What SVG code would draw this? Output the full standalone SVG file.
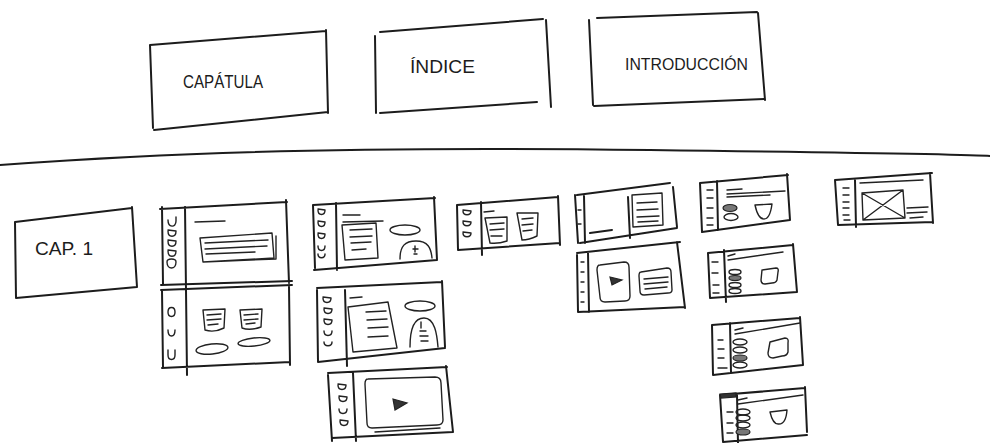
<svg xmlns="http://www.w3.org/2000/svg" width="990" height="443" viewBox="0 0 990 443">
<style>
.o{fill:none;stroke:#1c1c1c;stroke-width:2;stroke-linecap:round;stroke-linejoin:round}
.i{fill:none;stroke:#222;stroke-width:1.4;stroke-linecap:round;stroke-linejoin:round}
.f{fill:#333;stroke:#222;stroke-width:1.2}
.h{fill:#777;stroke:#222;stroke-width:1.2}
.t{font-family:"Liberation Sans",Arial,sans-serif;fill:#1c1c1c;font-weight:normal}
</style>
<rect width="990" height="443" fill="#fff"/>
<g id="capatula">
<path class="o" d="M150,45 L326,31 M326,30 L328,113 M154,130 L328,112 M150,45 L153,128"/>
<text class="t" x="183" y="88" font-size="19" textLength="80" lengthAdjust="spacingAndGlyphs">CAPÁTULA</text>
</g>
<g id="indice">
<path class="o" d="M380,32 L543,19 M546,20 L551,107 M380,113 L537,102 M375,36 L376,113"/>
<text class="t" x="410" y="73" font-size="18" textLength="65" lengthAdjust="spacingAndGlyphs">ÍNDICE</text>
</g>
<g id="introduccion">
<path class="o" d="M597,18 L757,12 M758,13 L765,100 M594,106 L765,99 M589,20 L593,105"/>
<text class="t" x="625" y="70" font-size="16" textLength="123" lengthAdjust="spacingAndGlyphs">INTRODUCCIÓN</text>
</g>
<g id="divider">
<path class="o" d="M0,165 Q70,160 130,157 Q330,146 650,150 T990,156"/>
</g>
<g id="cap1">
<path class="o" d="M15,222 L132,208 M132,207 L137,287 M16,298 L137,287 M15,222 L16,298"/>
<text class="t" x="35" y="255" font-size="18" textLength="58" lengthAdjust="spacingAndGlyphs">CAP. 1</text>
</g>
<g id="slide-a1">
<path class="o" d="M160,209 L287,202 M286,200 L289,283 M161,285 L292,281 M162,207 L163,284 M185,207 L186,290"/>
<path class="i" d="M168,220 C168,228 176,228 176,221 L176,217 M168,231 C168,238 176,238 176,231 L168,230 M168,241 C168,248 176,248 176,241 L168,240 M168,251 C168,258 176,258 176,251 L168,250 M167,262 C167,270 176,270 176,262 C176,258 167,258 167,262"/>
<path class="i" d="M195,222 L225,221 M200,238 L272,233 L274,258 L203,262 Z M203,262 L276,259 L276,236 M205,243 L268,240 M205,249 L267,246 M206,254 L255,252"/>
</g>
<g id="slide-a2">
<path class="o" d="M161,290 L292,285 M289,286 L290,365 M162,368 L290,362 M162,290 L163,368 M186,290 L187,375"/>
<path class="i" d="M168,312 C168,306 175,306 175,312 C175,318 168,318 168,312 M168,330 C168,338 175,338 175,330 M168,350 L168,355 C168,361 175,361 175,355 L175,350"/>
<path class="i" d="M203,310 L225,309 L224,328 Q214,333 205,330 Z M207,315 L221,314 M207,320 L221,319 M208,325 L218,324 M240,310 L262,309 L261,327 Q250,331 242,328 Z M244,315 L258,314 M244,320 L258,319 M246,324 L255,323"/>
<ellipse class="i" cx="212" cy="349" rx="16" ry="5" transform="rotate(-6 212 349)"/>
<ellipse class="i" cx="254" cy="342" rx="16" ry="4" transform="rotate(-6 254 342)"/>
</g>
<g id="slide-b1">
<path class="o" d="M313,205 L435,198 M434,197 L437,260 M314,270 L437,260 M313,205 L315,268 M336,203 L337,270"/>
<path class="i" d="M318,210 C318,216 325,216 325,210 L318,209 M318,222 C318,228 325,228 325,222 L318,221 M318,234 C318,240 325,240 325,234 L318,233 M318,246 C318,252 325,252 325,246 M318,254 C318,259 325,259 325,254"/>
<path class="i" d="M343,215 L360,215 M343,222 L383,221 M342,225 L376,223 L378,258 L345,260 Z M350,230 L372,229 M350,237 L372,236 M351,243 L371,242 M352,250 L366,249"/>
<ellipse class="i" cx="405" cy="230" rx="15" ry="5"/>
<path class="i" d="M400,259 C400,246 405,241 416,241 C428,241 431,248 432,258 M415,246 L415,252 M413,249 L418,249 M414,254 L417,254"/>
</g>
<g id="slide-b2">
<path class="o" d="M317,288 L442,282 M442,281 L445,347 M318,362 L445,348 M317,290 L318,362 M345,290 L347,366"/>
<path class="i" d="M323,298 C323,304 331,304 331,298 L323,297 M324,309 C324,315 332,315 332,309 L324,308 M324,320 C324,326 332,326 332,320 L324,319 M324,331 C324,337 332,337 332,331 M324,342 C324,347 332,347 332,342"/>
<path class="i" d="M350,298 L362,297 M348,307 L388,302 L397,348 L353,352 Z M366,312 L386,311 M367,320 L387,319 M368,328 L388,327 M368,337 L388,336"/>
<ellipse class="i" cx="420" cy="306" rx="15" ry="5"/>
<path class="i" d="M410,347 C410,330 413,318 424,318 C435,318 437,335 438,347 M421,322 L421,328 M420,331 L426,331 M420,336 L428,336 M421,341 L428,341"/>
</g>
<g id="slide-b3">
<path class="o" d="M328,373 L447,367 M446,366 L453,432 M332,438 L453,432 M328,375 L332,441 M353,373 L356,441"/>
<path class="i" d="M338,385 C338,391 346,391 346,385 L338,384 M339,397 C339,403 347,403 347,397 L339,396 M339,409 C339,415 347,415 347,409 M340,421 C340,427 348,427 348,421 L340,420"/>
<path class="i" d="M368,379 L435,377 Q441,377 441,383 L443,420 Q443,425 437,425 L372,428 Q367,428 367,423 L365,384 Q365,379 368,379 Z M375,432 L440,428"/>
<path class="f" d="M393,399 L407,403 L395,410 Z"/>
</g>
<g id="slide-c">
<path class="o" d="M457,205 L558,197 M558,196 L560,245 M458,250 L560,243 M457,205 L458,250 M481,202 L482,255"/>
<path class="i" d="M463,211 C463,216 471,216 471,211 L463,210 M463,222 C463,227 471,227 471,222 L463,221 M463,233 C463,238 471,238 471,233 L463,232"/>
<path class="i" d="M484,212 L494,211 M485,218 L507,217 L507,241 Q498,244 490,243 Z M490,224 L504,223 M490,230 L504,229 M491,236 L502,236 M517,213 L538,213 L537,236 Q529,240 522,240 Z M522,219 L533,218 M522,225 L533,224 M523,231 L532,230"/>
</g>
<g id="slide-d1">
<path class="o" d="M577,195 L670,183 M673,187 L677,227 M580,243 L677,228 M575,195 L578,243 M584,196 L585,243 M590,233 L612,230 M628,197 L630,238"/>
<path class="i" d="M632,195 L662,193 L663,225 L633,227 Z M637,203 L657,202 M637,210 L658,209 M637,217 L659,216 M638,222 L658,221"/>
<path class="i" d="M578,210 L581,210 M578,224 L581,224"/>
</g>
<g id="slide-d2">
<path class="o" d="M577,253 L680,242 M677,242 L685,308 M578,312 L685,307 M577,255 L578,312 M588,252 L589,312"/>
<path class="i" d="M581,262 L584,262 M581,272 L584,272 M581,282 L584,282 M581,292 L584,292 M581,302 L584,302"/>
<path class="i" d="M600,265 L624,262 Q629,262 629,267 L630,296 Q630,301 625,301 L605,302 Q600,302 600,297 L597,270 Q597,265 600,265 Z"/>
<path class="f" d="M610,277 L622,280 L612,285 Z"/>
<path class="i" d="M641,272 L667,268 Q671,268 671,272 L672,290 Q672,293 668,293 L644,295 Q640,295 640,291 L639,276 Q639,272 641,272 Z M644,279 L668,277 M644,284 L668,282 M645,289 L667,287"/>
</g>
<g id="slide-e1">
<path class="o" d="M700,183 L788,175 M787,174 L790,220 M702,232 L790,220 M700,183 L702,232 M717,181 L718,230"/>
<path class="i" d="M707,190 L713,190 M707,198 L713,198 M707,208 L713,208 M707,218 L713,218 M707,225 L713,225"/>
<path class="i" d="M727,190 L742,189 M727,194 L785,191 M727,197 L770,195"/>
<ellipse class="h" cx="730" cy="208" rx="7" ry="3.5"/>
<ellipse class="i" cx="731" cy="217" rx="7" ry="3.5"/>
<path class="i" d="M755,205 L772,204 Q770,219 764,219 Q758,219 755,205 Z"/>
</g>
<g id="slide-e2">
<path class="o" d="M708,253 L793,245 M793,244 L797,292 M710,298 L797,292 M708,253 L710,298 M724,250 L726,302"/>
<path class="i" d="M712,262 L718,262 M712,273 L718,273 M713,285 L719,285 M713,293 L719,293"/>
<path class="i" d="M728,256 L735,254 M728,260 L783,252"/>
<ellipse class="i" cx="735" cy="272" rx="6" ry="2.5"/>
<ellipse class="h" cx="735" cy="278" rx="6" ry="2.5"/>
<ellipse class="i" cx="735" cy="285" rx="6" ry="2.5"/>
<ellipse class="i" cx="735" cy="291" rx="6" ry="2.5"/>
<path class="i" d="M762,270 L776,268 Q779,268 778,272 L777,280 Q776,283 772,283 L765,284 Q761,284 761,280 Z"/>
</g>
<g id="slide-e3">
<path class="o" d="M712,325 L800,318 M800,317 L803,365 M713,375 L803,365 M712,325 L713,375 M730,323 L731,373"/>
<path class="i" d="M718,340 L723,340 M718,349 L724,349 M718,358 L724,358 M718,368 L727,368"/>
<path class="i" d="M735,330 L743,328 M735,334 L800,323"/>
<ellipse class="i" cx="740" cy="342" rx="7" ry="3"/>
<ellipse class="i" cx="740" cy="350" rx="7" ry="3"/>
<ellipse class="h" cx="740" cy="358" rx="7" ry="3"/>
<ellipse class="i" cx="740" cy="365" rx="7" ry="3"/>
<path class="i" d="M770,342 L785,338 Q789,338 788,343 L788,352 Q787,356 782,356 L773,358 Q768,358 768,353 Z"/>
</g>
<g id="slide-e4">
<path class="o" d="M720,395 L805,388 M805,387 L807,432 M723,442 L807,435 M720,395 L723,442 M737,395 L738,443"/>
<path class="f" d="M720,394 L736,393 L736,397 L721,398 Z"/>
<path class="i" d="M727,412 L733,412 M727,423 L733,423 M727,433 L733,433"/>
<path class="i" d="M738,400 L747,398 M738,404 L803,395"/>
<ellipse class="i" cx="743" cy="412" rx="7" ry="3"/>
<ellipse class="i" cx="743" cy="418" rx="7" ry="3"/>
<ellipse class="i" cx="743" cy="425" rx="7" ry="3"/>
<ellipse class="h" cx="743" cy="432" rx="7" ry="3"/>
<path class="i" d="M770,412 L787,410 Q786,424 779,424 Q773,425 770,412 Z"/>
</g>
<g id="slide-f">
<path class="o" d="M835,180 L932,173 M930,173 L933,223 M838,225 L933,222 M835,180 L838,225 M855,180 L856,227"/>
<path class="i" d="M843,188 L849,188 M843,195 L849,195 M843,202 L849,202 M843,208 L849,208 M843,215 L849,215 M844,220 L850,220"/>
<path class="i" d="M860,183 L923,180 M862,193 L903,190 L905,218 L863,220 Z M862,193 L905,218 M903,190 L863,220 M907,208 L928,207 M907,213 L927,212 M910,218 L923,217"/>
</g>
<g id="connectors"></g>
</svg>
